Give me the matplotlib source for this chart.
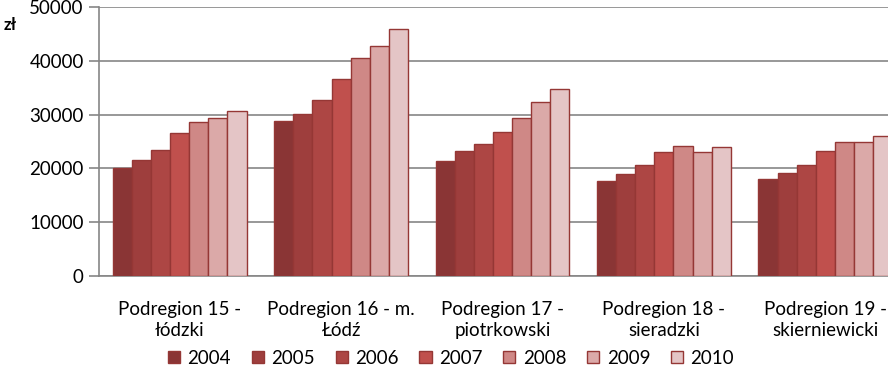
import numpy as np
import matplotlib.pyplot as plt

plt.rcParams['font.family'] = ['Lato', 'DejaVu Sans']

# data (zł)
regions = ['Podregion 15 -\nłódzki', 'Podregion 16 - m.\nŁódź', 'Podregion 17 -\npiotrkowski',
           'Podregion 18 -\nsieradzki', 'Podregion 19 -\nskierniewicki']
years = ['2004', '2005', '2006', '2007', '2008', '2009', '2010']
v2004 = [20000, 28800, 21300, 17700, 18000]
v2005 = [21600, 30200, 23200, 19000, 19100]
v2006 = [23500, 32700, 24500, 20600, 20600]
v2007 = [26500, 36700, 26700, 23000, 23200]
v2008 = [28600, 40600, 29400, 24100, 24900]
v2009 = [29300, 42700, 32300, 23000, 24900]
v2010 = [30600, 45900, 34700, 23900, 26000]
series = [v2004, v2005, v2006, v2007, v2008, v2009, v2010]
colors = ['#8a3535', '#9e3e3d', '#ad4644', '#c0504d', '#cf8886', '#dba9a8', '#e4c5c6']
edge = '#953735'

fig = plt.figure(figsize=(8.88, 3.66), dpi=100)
ax = fig.add_axes([99 / 888, 1 - 276 / 366, 807 / 888, 269 / 366])

x = np.arange(len(regions))
w = 0.1183
for i, (vals, c) in enumerate(zip(series, colors)):
    ax.bar(x + (i - 3) * w, vals, width=w, color=c, edgecolor=edge, linewidth=1,
           label=years[i], zorder=3)

ax.set_xlim(-0.5, len(regions) - 0.5)
ax.set_ylim(0, 50000)
ax.set_yticks(range(0, 50001, 10000))
ax.yaxis.grid(True, color='#868686', linewidth=1.2, zorder=0)
ax.set_xticks(x)
ax.set_xticklabels(regions, fontsize=13.5, linespacing=1.3)
ax.tick_params(axis='x', length=0, pad=18)
ax.tick_params(axis='y', length=7, color='#868686', width=1.2, labelsize=13.5, pad=4)
for s in ['top', 'right']:
    ax.spines[s].set_visible(False)
for s in ['left', 'bottom']:
    ax.spines[s].set_color('#868686')
    ax.spines[s].set_linewidth(1.2)

fig.text(4 / 888, 1 - 25 / 366, 'zł', fontsize=12, fontweight='bold', va='center', ha='left')

fig.legend(loc='center', bbox_to_anchor=(451 / 888, 1 - 358 / 366), ncol=7, frameon=False,
           fontsize=13.5, handlelength=0.65, handleheight=0.65, handletextpad=0.4,
           columnspacing=1.1, borderaxespad=0)

fig.savefig('out.png', dpi=100)
